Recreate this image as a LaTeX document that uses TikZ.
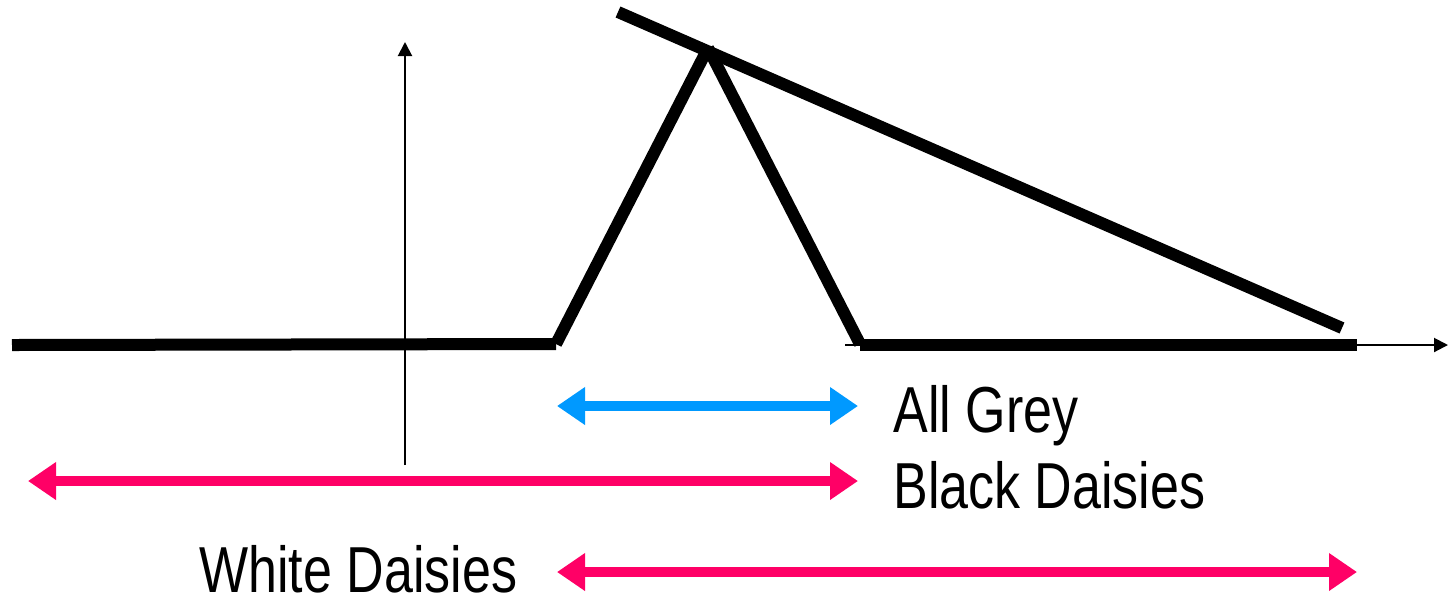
\documentclass[tikz,border=0pt]{standalone}
\usepackage{fontspec}
\setmainfont{Liberation Sans}
\usetikzlibrary{arrows.meta}
\definecolor{pinkc}{HTML}{FF0066}
\definecolor{bluec}{HTML}{0099FF}
\tikzset{
  curveline/.style={line width=6pt, line cap=butt},
  axisline/.style={line width=1pt, -{Triangle[length=7pt,width=7pt]}},
  rangearrow/.style={line width=5pt, {Triangle[length=14pt,width=18pt]}-{Triangle[length=14pt,width=18pt]}},
  lbl/.style={anchor=base west, inner sep=0pt, font=\fontsize{32.5}{36}\selectfont}
}
\begin{document}
\begin{tikzpicture}[x=0.5pt,y=-0.5pt]
\useasboundingbox (0,0) rectangle (1452,602);
% axes
\coordinate (xa0) at (845,345);
\coordinate (xa1) at (1448,345);
\coordinate (ya0) at (405,465);
\coordinate (ya1) at (405,42);
\draw[axisline] (xa0) -- (xa1);
\draw[axisline] (ya0) -- (ya1);
% curve
\coordinate (c0) at (12,345);
\coordinate (c1) at (556,344);
\coordinate (c2) at (708,48);
\coordinate (c3) at (860,344);
\coordinate (c4) at (860,345);
\coordinate (c5) at (1357,345);
\coordinate (s0) at (618,12);
\coordinate (s1) at (1342,328);
\draw[curveline] (c0) -- (c1);
\draw[curveline] (c1) -- (c2);
\draw[curveline] (c2) -- (c3);
\draw[curveline] (c4) -- (c5);
\draw[curveline] (s0) -- (s1);
% ranges
\coordinate (g0) at (557,406);
\coordinate (g1) at (858,406);
\coordinate (b0) at (28,481);
\coordinate (b1) at (858,481);
\coordinate (w0) at (557,572);
\coordinate (w1) at (1357,572);
\draw[rangearrow, bluec] (g0) -- (g1);
\draw[rangearrow, pinkc] (b0) -- (b1);
\draw[rangearrow, pinkc] (w0) -- (w1);
% labels
\node[lbl] (tg) at (893,432) {\scalebox{0.8}[1]{All Grey}};
\node[lbl] (tb) at (893,508) {\scalebox{0.8}[1]{Black Daisies}};
\node[lbl] (tw) at (199,592) {\scalebox{0.8}[1]{White Daisies}};
\end{tikzpicture}
\end{document}
